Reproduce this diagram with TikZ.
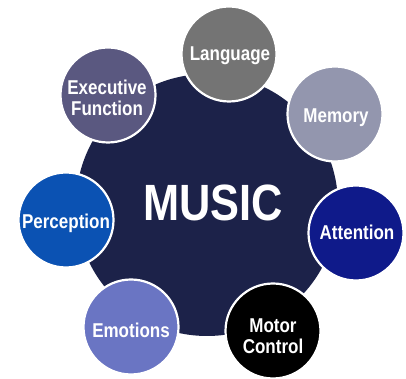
\documentclass[tikz,border=0pt]{standalone}
\usepackage{fontspec}
\setmainfont{Liberation Sans}[BoldFeatures={FakeStretch=0.85}]
\definecolor{cBig}{HTML}{1C2249}
\definecolor{cLang}{HTML}{747474}
\definecolor{cExec}{HTML}{5A5880}
\definecolor{cMem}{HTML}{9396AE}
\definecolor{cAtt}{HTML}{0F1A8A}
\definecolor{cMot}{HTML}{000000}
\definecolor{cEmo}{HTML}{6A75C3}
\definecolor{cPer}{HTML}{0B52B3}
\begin{document}
\begin{tikzpicture}[x=1pt,y=1pt,
  small/.style={circle, draw=white, line width=2.2pt, minimum size=95pt, inner sep=0pt},
  big/.style={circle, fill=cBig, minimum size=262pt, inner sep=0pt},
  lbl/.style={text=white, align=center, anchor=base, inner sep=0pt,
    font=\fontsize{20}{21}\selectfont\bfseries},
  biglbl/.style={text=white, anchor=base, inner sep=0pt,
    font=\fontsize{51}{51}\selectfont\bfseries}]
\useasboundingbox (0,0) rectangle (406,379);
\node[big] (music) at (207,174) {};
\node[biglbl] (musictext) at (213,158) {MUSIC};
\node[small, fill=cLang] (lang) at (229,325) {};
\node[small, fill=cExec] (exec) at (108,284) {};
\node[small, fill=cMem] (mem) at (335,265) {};
\node[small, fill=cAtt] (att) at (356,146) {};
\node[small, fill=cMot] (mot) at (273,48) {};
\node[small, fill=cEmo] (emo) at (131,52) {};
\node[small, fill=cPer] (per) at (66,159) {};
\node[lbl] (langtext) at (230,318) {Language};
\node[lbl] (exectext) at (107,263) {Executive\\Function};
\node[lbl] (memtext) at (336,256) {Memory};
\node[lbl] (atttext) at (357,139) {Attention};
\node[lbl] (mottext) at (273,25) {Motor\\Control};
\node[lbl] (emotext) at (131,41) {Emotions};
\node[lbl] (pertext) at (66,150) {Perception};
\end{tikzpicture}
\end{document}
